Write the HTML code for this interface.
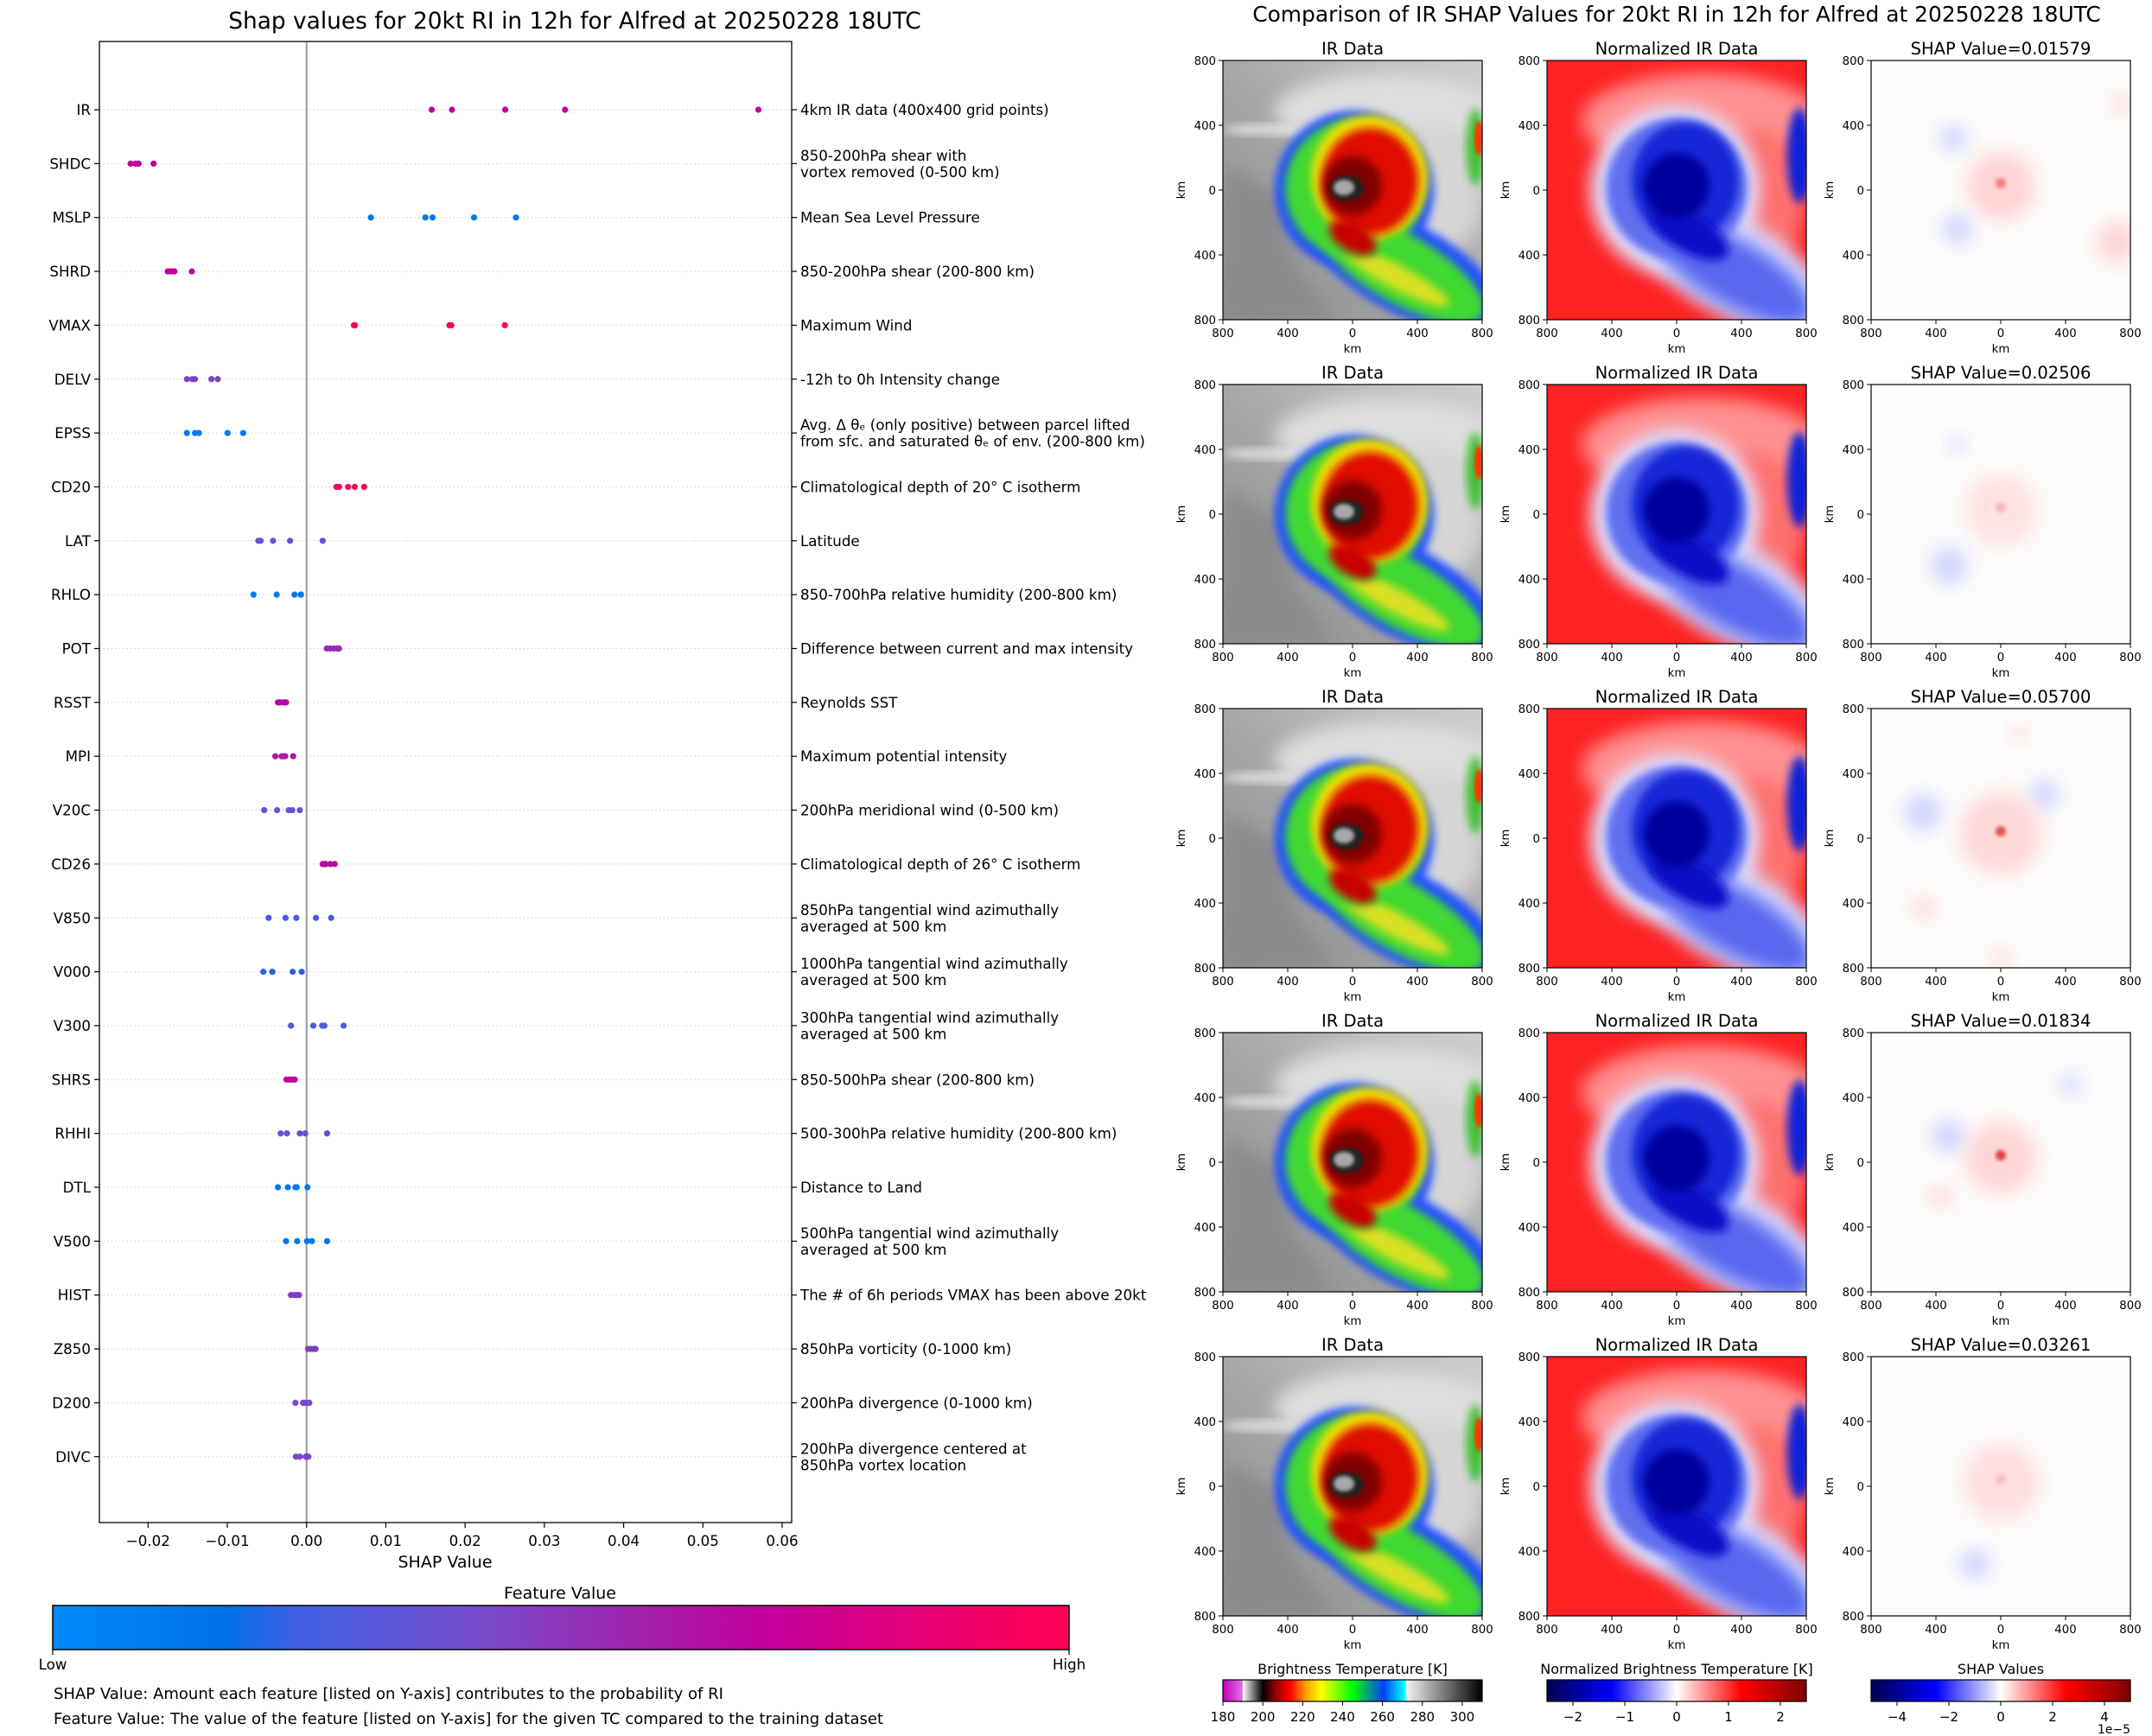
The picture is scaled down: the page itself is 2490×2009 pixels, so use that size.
<!DOCTYPE html>
<html><head><meta charset="utf-8"><style>
html,body{margin:0;padding:0;background:#fff;}
svg{display:block;font-family:"DejaVu Sans","Liberation Sans",sans-serif;}
</style></head><body>
<svg id="root" width="2490" height="2009" viewBox="0 0 2490 2009" xmlns="http://www.w3.org/2000/svg">
<defs>
<filter id="b2" x="-20%" y="-20%" width="140%" height="140%"><feGaussianBlur stdDeviation="2"/></filter>
<filter id="b5" x="-30%" y="-30%" width="160%" height="160%"><feGaussianBlur stdDeviation="5"/></filter>
<filter id="b10" x="-50%" y="-50%" width="200%" height="200%"><feGaussianBlur stdDeviation="10"/></filter>
<linearGradient id="featGrad" x1="0" x2="1" y1="0" y2="0">
<stop offset="0" stop-color="#008afb"/><stop offset="0.17" stop-color="#006fe8"/><stop offset="0.24" stop-color="#3f5ee3"/><stop offset="0.4" stop-color="#7150ce"/><stop offset="0.55" stop-color="#9a28b0"/><stop offset="0.7" stop-color="#c2009c"/><stop offset="0.85" stop-color="#e5007a"/><stop offset="1" stop-color="#ff0052"/>
</linearGradient>
<linearGradient id="irGrad" x1="0" x2="1" y1="0" y2="0">
<stop offset="0" stop-color="#c000c0"/><stop offset="0.075" stop-color="#e070e0"/><stop offset="0.077" stop-color="#ffffff"/><stop offset="0.154" stop-color="#000000"/><stop offset="0.2" stop-color="#900000"/><stop offset="0.26" stop-color="#ff0000"/><stop offset="0.32" stop-color="#ffa000"/><stop offset="0.38" stop-color="#ffff00"/><stop offset="0.5" stop-color="#00ff00"/><stop offset="0.62" stop-color="#0040ff"/><stop offset="0.7" stop-color="#00ffff"/><stop offset="0.71" stop-color="#f0f0f0"/><stop offset="1" stop-color="#000000"/>
</linearGradient>
<linearGradient id="seis" x1="0" x2="1" y1="0" y2="0">
<stop offset="0" stop-color="#00004c"/><stop offset="0.25" stop-color="#0000ff"/><stop offset="0.5" stop-color="#ffffff"/><stop offset="0.75" stop-color="#ff0000"/><stop offset="1" stop-color="#7f0000"/>
</linearGradient>
<linearGradient id="grayBg" x1="0" y1="1" x2="1" y2="0">
<stop offset="0" stop-color="#8c8c8c"/><stop offset="0.5" stop-color="#a8a8a8"/><stop offset="1" stop-color="#cfcfcf"/>
</linearGradient>
</defs>

<text x="665" y="33" font-size="26.4" text-anchor="middle">Shap values for 20kt RI in 12h for Alfred at 20250228 18UTC</text>
<g id="plot"></g>
<text x="515" y="1814" font-size="19" text-anchor="middle">SHAP Value</text>

<text x="648" y="1850" font-size="19" text-anchor="middle">Feature Value</text>
<rect x="61" y="1858" width="1176" height="51" fill="url(#featGrad)" stroke="#000" stroke-width="1.5"/>
<line x1="61" y1="1909" x2="61" y2="1915" stroke="#000" stroke-width="1.2"/>
<line x1="1237" y1="1909" x2="1237" y2="1915" stroke="#000" stroke-width="1.2"/>
<text x="61" y="1932" font-size="16.7" text-anchor="middle">Low</text>
<text x="1237" y="1932" font-size="16.7" text-anchor="middle">High</text>
<text x="62" y="1966" font-size="18">SHAP Value: Amount each feature [listed on Y-axis] contributes to the probability of RI</text>
<text x="62" y="1995" font-size="18">Feature Value: The value of the feature [listed on Y-axis] for the given TC compared to the training dataset</text>

<text x="1940" y="25" font-size="24.9" text-anchor="middle">Comparison of IR SHAP Values for 20kt RI in 12h for Alfred at 20250228 18UTC</text>
<g id="panels"></g>

<g>
<text x="1565" y="1937" font-size="16" text-anchor="middle">Brightness Temperature [K]</text>
<rect x="1415" y="1944" width="300" height="25" fill="url(#irGrad)" stroke="#000" stroke-width="1.2"/>
<g id="irTicks"></g>
</g>
<g>
<text x="1940" y="1937" font-size="16" text-anchor="middle">Normalized Brightness Temperature [K]</text>
<rect x="1790" y="1944" width="300" height="25" fill="url(#seis)" stroke="#000" stroke-width="1.2"/>
<g id="nTicks"></g>
</g>
<g>
<text x="2315" y="1937" font-size="16" text-anchor="middle">SHAP Values</text>
<rect x="2165" y="1944" width="300" height="25" fill="url(#seis)" stroke="#000" stroke-width="1.2"/>
<g id="sTicks"></g>
<text x="2465" y="2006" font-size="14" text-anchor="end">1e−5</text>
</g>
</svg>

<script>
const NS = "http://www.w3.org/2000/svg";
const features = ["IR","SHDC","MSLP","SHRD","VMAX","DELV","EPSS","CD20","LAT","RHLO","POT","RSST","MPI","V20C","CD26","V850","V000","V300","SHRS","RHHI","DTL","V500","HIST","Z850","D200","DIVC"];
const descriptions = [
 ["4km IR data (400x400 grid points)"],
 ["850-200hPa shear with","vortex removed (0-500 km)"],
 ["Mean Sea Level Pressure"],
 ["850-200hPa shear (200-800 km)"],
 ["Maximum Wind"],
 ["-12h to 0h Intensity change"],
 ["Avg. Δ θₑ (only positive) between parcel lifted","from sfc. and saturated θₑ of env. (200-800 km)"],
 ["Climatological depth of 20° C isotherm"],
 ["Latitude"],
 ["850-700hPa relative humidity (200-800 km)"],
 ["Difference between current and max intensity"],
 ["Reynolds SST"],
 ["Maximum potential intensity"],
 ["200hPa meridional wind (0-500 km)"],
 ["Climatological depth of 26° C isotherm"],
 ["850hPa tangential wind azimuthally","averaged at 500 km"],
 ["1000hPa tangential wind azimuthally","averaged at 500 km"],
 ["300hPa tangential wind azimuthally","averaged at 500 km"],
 ["850-500hPa shear (200-800 km)"],
 ["500-300hPa relative humidity (200-800 km)"],
 ["Distance to Land"],
 ["500hPa tangential wind azimuthally","averaged at 500 km"],
 ["The # of 6h periods VMAX has been above 20kt"],
 ["850hPa vorticity (0-1000 km)"],
 ["200hPa divergence (0-1000 km)"],
 ["200hPa divergence centered at","850hPa vortex location"]
];
const shapValues = [
 [0.01579,0.01834,0.02506,0.03261,0.05700],
 [-0.0222,-0.0216,-0.0213,-0.0212,-0.0193],
 [0.00811,0.01499,0.01589,0.02113,0.02642],
 [-0.01752,-0.01724,-0.01696,-0.01668,-0.01448],
 [0.00597,0.00610,0.01803,0.01825,0.02501],
 [-0.01510,-0.01442,-0.01408,-0.01200,-0.01121],
 [-0.01510,-0.01408,-0.01358,-0.00997,-0.00800],
 [0.00377,0.00411,0.00524,0.00608,0.00727],
 [-0.00608,-0.00580,-0.00423,-0.00208,0.00203],
 [-0.00670,-0.00377,-0.00152,-0.00073,-0.00070],
 [0.00254,0.00299,0.00344,0.00389,0.00410],
 [-0.00360,-0.00338,-0.00293,-0.00270,-0.00259],
 [-0.00394,-0.00315,-0.00293,-0.00270,-0.00169],
 [-0.00535,-0.00372,-0.00225,-0.00180,-0.00085],
 [0.00203,0.00225,0.00242,0.00299,0.00355],
 [-0.00479,-0.00265,-0.00130,0.00118,0.00310],
 [-0.00546,-0.00434,-0.00430,-0.00175,-0.00062],
 [-0.00197,0.00085,0.00197,0.00225,0.00468],
 [-0.00254,-0.00220,-0.00186,-0.00152,-0.00150],
 [-0.00327,-0.00248,-0.00085,-0.00017,0.00259],
 [-0.00361,-0.00237,-0.00141,-0.00124,0.00011],
 [-0.00259,-0.00118,0.00006,0.00068,0.00259],
 [-0.00197,-0.00163,-0.00130,-0.00096,-0.00110],
 [0.00017,0.00051,0.00085,0.00113,0.00100],
 [-0.00141,-0.00045,-0.00023,0.00011,0.00034],
 [-0.00135,-0.00085,-0.00011,0.00023,0.00010]
];
const featureLevel = [0.7,0.7,0.12,0.7,1.0,0.45,0.08,0.97,0.36,0.1,0.55,0.68,0.62,0.34,0.68,0.24,0.22,0.28,0.68,0.36,0.1,0.12,0.47,0.47,0.42,0.44];
const xTicks = [-0.02,-0.01,0.00,0.01,0.02,0.03,0.04,0.05,0.06];
const xTickLabels = ["−0.02","−0.01","0.00","0.01","0.02","0.03","0.04","0.05","0.06"];
const panelShap = ["0.01579","0.02506","0.05700","0.01834","0.03261"];
const kmTicks = ["800","400","0","400","800"];
const irCbarTicks = [180,200,220,240,260,280,300];
const normCbarTicks = [-2,-1,0,1,2];
const shapCbarTicks = [-4,-2,0,2,4];

const AX = {l:115,r:916,t:48,b:1762};
const XMIN=-0.02614, XMAX=0.06120;
function xs(v){return AX.l+(v-XMIN)/(XMAX-XMIN)*(AX.r-AX.l);}
const ROW0=127, ROWSTEP=62.35;
function ys(i){return ROW0+i*ROWSTEP;}
const stops=[[0,[0,138,251]],[0.17,[0,111,232]],[0.24,[63,94,227]],[0.4,[113,80,206]],[0.55,[154,40,176]],[0.7,[194,0,156]],[0.85,[229,0,122]],[1,[255,0,82]]];
function cmap(t){for(let k=1;k<stops.length;k++){if(t<=stops[k][0]){const a=stops[k-1],b=stops[k];const f=(t-a[0])/(b[0]-a[0]);return "rgb("+a[1].map((c,j)=>Math.round(c+(b[1][j]-c)*f)).join(",")+")";}}return "rgb(255,0,82)";}
function mk(tag,attrs,parent,txt){const e=document.createElementNS(NS,tag);for(const k in attrs)e.setAttribute(k,attrs[k]);if(txt!==undefined)e.textContent=txt;parent.appendChild(e);return e;}

const plot=document.getElementById('plot');
features.forEach((f,i)=>{
  const gl=mk('line',{x1:AX.l,x2:AX.r,y1:ys(i),y2:ys(i),stroke:'#cccccc','stroke-width':1,'stroke-dasharray':'1.5,3'},plot);
  
  
});
const zl=mk('line',{x1:xs(0),x2:xs(0),y1:AX.t,y2:AX.b,stroke:'#999999','stroke-width':2},plot);


const fr=mk('rect',{x:AX.l,y:AX.t,width:AX.r-AX.l,height:AX.b-AX.t,fill:'none',stroke:'#000','stroke-width':1.3},plot);


features.forEach((f,i)=>{
  const y=ys(i);
  mk('line',{x1:AX.l-6,x2:AX.l,y1:y,y2:y,stroke:'#000','stroke-width':1.2},plot);
  mk('line',{x1:AX.r,x2:AX.r+6,y1:y,y2:y,stroke:'#000','stroke-width':1.2},plot);
  const t=mk('text',{x:AX.l-10,y:y+6,'font-size':16.7,'text-anchor':'end'},plot,f);
  
  
  const d=descriptions[i];
  d.forEach((line,j)=>{
    const off=d.length===1?0:(j===0?-9.5:9.5);
    const dt=mk('text',{x:AX.r+10,y:y+6+off,'font-size':16.7},plot,line);
    
    
  });
});
xTicks.forEach((v,k)=>{
  const x=xs(v);
  mk('line',{x1:x,x2:x,y1:AX.b,y2:AX.b+6,stroke:'#000','stroke-width':1.2},plot);
  const t=mk('text',{x:x,y:AX.b+27,'font-size':16.7,'text-anchor':'middle'},plot,xTickLabels[k]);
  
  
});
shapValues.forEach((row,i)=>{
  row.forEach(v=>{
    const c=mk('circle',{cx:xs(v),cy:ys(i),r:3.6,fill:cmap(featureLevel[i])},plot);
    
    
  });
});

const panels=document.getElementById('panels');
const COLX=[1415,1790,2165], ROWY=[70,445,820,1195,1570], W=300, H=300;
let clipId=0;
function axesDecor(g,x0,y0,title){
  const tt=mk('text',{x:x0+W/2,y:y0-7,'font-size':19.5,'text-anchor':'middle'},g,title);
  
  
  mk('rect',{x:x0,y:y0,width:W,height:H,fill:'none',stroke:'#000','stroke-width':1.2},g);
  kmTicks.forEach((lab,k)=>{
    const p=k*W/4;
    mk('line',{x1:x0-5,x2:x0,y1:y0+p,y2:y0+p,stroke:'#000','stroke-width':1},g);
    mk('text',{x:x0-8,y:y0+p+5,'font-size':13.3,'text-anchor':'end'},g,lab);
    mk('line',{x1:x0+p,x2:x0+p,y1:y0+H,y2:y0+H+5,stroke:'#000','stroke-width':1},g);
    mk('text',{x:x0+p,y:y0+H+20,'font-size':13.3,'text-anchor':'middle'},g,lab);
  });
  mk('text',{x:x0+W/2,y:y0+H+38,'font-size':13.3,'text-anchor':'middle'},g,'km');
  mk('text',{x:0,y:0,'font-size':13.3,'text-anchor':'middle',transform:'translate('+(x0-44)+','+(y0+H/2)+') rotate(-90)'},g,'km');
}
function clipped(g,x0,y0){
  const id='c'+(clipId++);
  const cp=mk('clipPath',{id:id},g);
  mk('rect',{x:x0,y:y0,width:W,height:H},cp);
  return mk('g',{'clip-path':'url(#'+id+')'},g);
}
function irImage(g,x0,y0){
  const c=clipped(g,x0,y0);
  const t=mk('g',{transform:'translate('+x0+','+y0+')'},c);
  mk('rect',{x:0,y:0,width:W,height:H,fill:'url(#grayBg)'},t);
  mk('path',{d:'M0,120 L60,150 L80,230 L130,300 L0,300 Z',fill:'#8a8a8a',filter:'url(#b10)'},t);
  mk('ellipse',{cx:190,cy:60,rx:130,ry:45,fill:'#dedede',filter:'url(#b10)'},t);
  mk('ellipse',{cx:240,cy:150,rx:60,ry:80,fill:'#d6d6d6',filter:'url(#b10)'},t);
  mk('ellipse',{cx:60,cy:80,rx:60,ry:6,fill:'#e0e0e0',filter:'url(#b5)'},t);
  mk('ellipse',{cx:292,cy:100,rx:10,ry:45,fill:'#40c030',filter:'url(#b5)'},t);
  mk('ellipse',{cx:296,cy:90,rx:5,ry:20,fill:'#ff3000',filter:'url(#b2)'},t);
  mk('ellipse',{cx:210,cy:240,rx:120,ry:52,fill:'#2050ff',transform:'rotate(28 210 240)',filter:'url(#b5)'},t);
  mk('circle',{cx:152,cy:150,r:92,fill:'#2050ff',filter:'url(#b5)'},t);
  mk('ellipse',{cx:205,cy:240,rx:110,ry:40,fill:'#40d830',transform:'rotate(30 205 240)',filter:'url(#b5)'},t);
  mk('ellipse',{cx:200,cy:250,rx:70,ry:14,fill:'#d8e020',transform:'rotate(28 200 250)',filter:'url(#b5)'},t);
  mk('circle',{cx:152,cy:148,r:80,fill:'#40d830',filter:'url(#b5)'},t);
  mk('ellipse',{cx:170,cy:135,rx:68,ry:72,fill:'#f0e000',filter:'url(#b5)'},t);
  mk('ellipse',{cx:170,cy:140,rx:56,ry:62,fill:'#e01000',filter:'url(#b5)'},t);
  mk('ellipse',{cx:150,cy:205,rx:30,ry:16,fill:'#c80000',transform:'rotate(30 150 205)',filter:'url(#b5)'},t);
  mk('circle',{cx:150,cy:145,r:34,fill:'#800000',filter:'url(#b5)'},t);
  mk('ellipse',{cx:143,cy:148,rx:20,ry:15,fill:'#202020',filter:'url(#b2)'},t);
  mk('ellipse',{cx:140,cy:147,rx:12,ry:9,fill:'#a8a8a8',filter:'url(#b2)'},t);
}
function normImage(g,x0,y0){
  const c=clipped(g,x0,y0);
  const t=mk('g',{transform:'translate('+x0+','+y0+')'},c);
  mk('rect',{x:0,y:0,width:W,height:H,fill:'#ff2222'},t);
  mk('ellipse',{cx:180,cy:70,rx:140,ry:55,fill:'#ff9090',filter:'url(#b10)'},t);
  mk('ellipse',{cx:240,cy:160,rx:60,ry:80,fill:'#ff7070',filter:'url(#b10)'},t);
  mk('ellipse',{cx:292,cy:110,rx:14,ry:55,fill:'#1020d8',filter:'url(#b5)'},t);
  mk('ellipse',{cx:215,cy:240,rx:125,ry:55,fill:'#d8dcff',transform:'rotate(28 215 240)',filter:'url(#b10)'},t);
  mk('circle',{cx:148,cy:150,r:98,fill:'#e0e0ff',filter:'url(#b10)'},t);
  mk('ellipse',{cx:215,cy:245,rx:105,ry:38,fill:'#5868f0',transform:'rotate(30 215 245)',filter:'url(#b10)'},t);
  mk('circle',{cx:150,cy:148,r:82,fill:'#6070f0',filter:'url(#b5)'},t);
  mk('ellipse',{cx:160,cy:140,rx:62,ry:68,fill:'#1828d8',filter:'url(#b5)'},t);
  mk('ellipse',{cx:165,cy:200,rx:50,ry:22,fill:'#0a10c8',transform:'rotate(30 165 200)',filter:'url(#b5)'},t);
  mk('circle',{cx:150,cy:145,r:38,fill:'#00009c',filter:'url(#b5)'},t);
}
const shapStyle=[
 {c:'#ffd4d4',r:40,core:'#f08080',blues:[[95,90,16],[100,195,18]],pinks:[[285,210,24],[290,50,10]]},
 {c:'#ffe2e2',r:42,core:'#f6b8b8',blues:[[100,70,9],[90,210,22]],pinks:[]},
 {c:'#ffd8d8',r:48,core:'#e05050',blues:[[60,120,22],[200,100,18]],pinks:[[170,30,8],[150,290,10],[60,230,12]]},
 {c:'#ffd6d6',r:42,core:'#e04040',blues:[[90,120,20],[230,60,12]],pinks:[[80,190,12]]},
 {c:'#ffdede',r:44,core:'#f6c0c0',blues:[[120,240,18]],pinks:[]}
];
function shapImage(g,x0,y0,s){
  const c=clipped(g,x0,y0);
  const t=mk('g',{transform:'translate('+x0+','+y0+')'},c);
  mk('rect',{x:0,y:0,width:W,height:H,fill:'#fdfbfb'},t);
  s.blues.forEach(b=>mk('circle',{cx:b[0],cy:b[1],r:b[2],fill:'#d2d6ff',filter:'url(#b10)'},t));
  s.pinks.forEach(b=>mk('circle',{cx:b[0],cy:b[1],r:b[2],fill:'#ffd4d4',filter:'url(#b10)'},t));
  mk('circle',{cx:150,cy:145,r:s.r,fill:s.c,filter:'url(#b10)'},t);
  mk('circle',{cx:150,cy:142,r:6,fill:s.core,filter:'url(#b2)'},t);
}
ROWY.forEach((y0,r)=>{
  const g1=mk('g',{},panels);
  
  
  irImage(g1,COLX[0],y0); axesDecor(g1,COLX[0],y0,'IR Data');
  const g2=mk('g',{},panels);
  
  
  normImage(g2,COLX[1],y0); axesDecor(g2,COLX[1],y0,'Normalized IR Data');
  const g3=mk('g',{},panels);
  
  
  shapImage(g3,COLX[2],y0,shapStyle[r]); axesDecor(g3,COLX[2],y0,'SHAP Value='+panelShap[r]);
});
function cbarTicks(id,x0,vmin,vmax,ticks,fmt){
  const g=document.getElementById(id);
  ticks.forEach(v=>{
    const x=x0+(v-vmin)/(vmax-vmin)*300;
    mk('line',{x1:x,x2:x,y1:1969,y2:1974,stroke:'#000','stroke-width':1},g);
    const t=mk('text',{x:x,y:1992,'font-size':15,'text-anchor':'middle'},g,fmt(v));
    
    
  });
}
const fm=v=>String(v).replace('-','−');
cbarTicks('irTicks',1415,180,310,irCbarTicks,fm);
cbarTicks('nTicks',1790,-2.5,2.5,normCbarTicks,fm);
cbarTicks('sTicks',2165,-5,5,shapCbarTicks,fm);
</script>
</body></html>
